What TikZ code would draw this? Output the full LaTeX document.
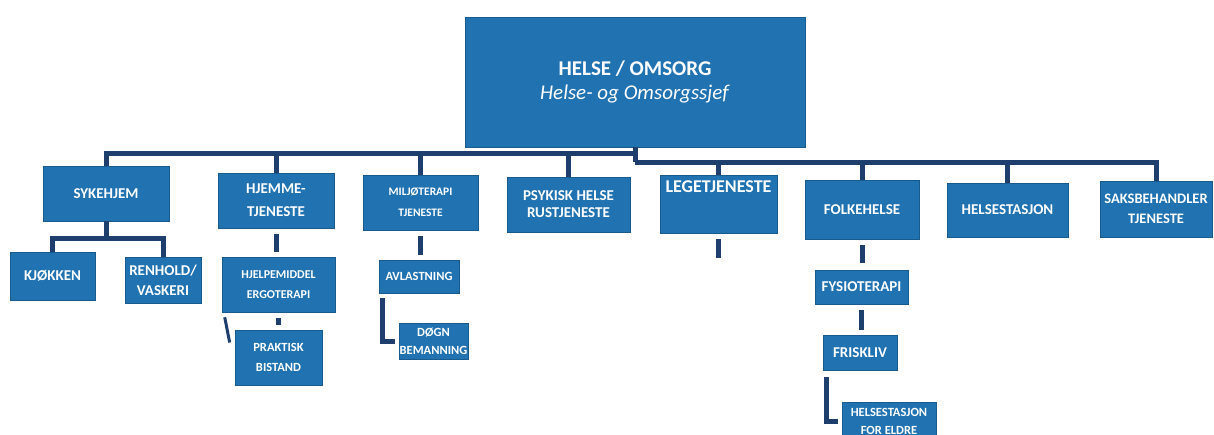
\documentclass[tikz,border=0pt]{standalone}
\usepackage{fontspec}
\setmainfont{Carlito}
\usepackage{tikz}
\usetikzlibrary{positioning}
\definecolor{unitblue}{RGB}{32,114,176}
\definecolor{linkblue}{RGB}{30,62,110}
\tikzset{
    %Define style for boxes
    unitnode/.style={
             rectangle,
             fill=unitblue, draw=unitblue!80!black, line width=0.6pt,
             text=white, align=center, inner sep=1pt},
    boxsize/.style 2 args={minimum width=#1pt, minimum height=#2pt},
    textsize/.style 2 args={font=\bfseries\fontsize{#1}{#2}\selectfont},
    % Define connector style
    unitlink/.style={
            draw=linkblue,
            line width=5pt},
    stub/.style={
            unitlink,
            shorten <=6pt, shorten >=5pt}
}
\begin{document}
\begin{tikzpicture}[x=1pt, y=-1pt]
    \fill[white] (0,0) rectangle (1214,435);
    \useasboundingbox (0,0) rectangle (1214,435);
    % top box
    \node[unitnode, boxsize={340}{130}, font=\fontsize{21}{24}\selectfont] (helse) at (635,82)
        {\textbf{HELSE / OMSORG}\\\textit{Helse- og Omsorgssjef}};
    % first row
    \node[unitnode, boxsize={126}{55}, textsize={15}{20}] (sykehjem) at (106,193.5) {SYKEHJEM};
    \node[unitnode, boxsize={116}{55}, textsize={15}{23}] (hjemme) at (276,200.5) {HJEMME-\\TJENESTE};
    \node[unitnode, boxsize={115}{55}, textsize={11.5}{21}] (miljo) at (420.5,202.5) {MILJØTERAPI\\TJENESTE};
    \node[unitnode, boxsize={123}{55}, textsize={15}{17}] (psykisk) at (568.5,204.5) {PSYKISK HELSE\\RUSTJENESTE};
    \node[unitnode, boxsize={117}{58}, textsize={18}{22}] (lege) at (718.5,204) {LEGETJENESTE\\[6pt]\strut};
    \node[unitnode, boxsize={114}{59}, textsize={15}{20}] (folkehelse) at (862,209.5) {FOLKEHELSE};
    \node[unitnode, boxsize={121}{54}, textsize={15}{20}] (helsestasjon) at (1007.5,210) {HELSESTASJON};
    \node[unitnode, boxsize={112}{56}, textsize={14.5}{20}] (saksbeh) at (1156,209) {SAKSBEHANDLER\\TJENESTE};
    % second row and below
    \node[unitnode, boxsize={85}{48}, textsize={15}{20}] (kjokken) at (52.5,276) {KJØKKEN};
    \node[unitnode, boxsize={76}{46}, textsize={15}{20}] (renhold) at (163,280) {RENHOLD/\\VASKERI};
    \node[unitnode, boxsize={113}{55}, textsize={12}{20}] (hjelpemiddel) at (278.5,284.5) {HJELPEMIDDEL\\ERGOTERAPI};
    \node[unitnode, boxsize={87}{55}, textsize={12.5}{20}] (praktisk) at (278.5,357.5) {PRAKTISK\\BISTAND};
    \node[unitnode, boxsize={80}{33}, textsize={12.5}{20}] (avlastning) at (419,276.5) {AVLASTNING};
    \node[unitnode, boxsize={69}{36}, textsize={12.5}{18}, inner sep=0pt] (dogn) at (433.5,341) {DØGN\\BEMANNING};
    \node[unitnode, boxsize={93}{34}, textsize={15}{20}] (fysio) at (861.5,287) {FYSIOTERAPI};
    \node[unitnode, boxsize={74}{35}, textsize={15}{20}] (frisk) at (860,352.5) {FRISKLIV};
    \node[unitnode, boxsize={94}{38}, textsize={12.5}{18}] (eldre) at (889,421) {HELSESTASJON\\FOR ELDRE};
    % bus under the top box
    \draw[unitlink] (helse.south) -- ++(0,6) coordinate (busleft) -- ++(0,9) coordinate (busright);
    \foreach \n in {sykehjem,hjemme,miljo,psykisk}
        \draw[unitlink] (busleft) -| (\n.north);
    \foreach \n in {lege,folkehelse,helsestasjon,saksbeh}
        \draw[unitlink] (busright) -| (\n.north);
    % under sykehjem
    \draw[unitlink] (sykehjem.south) -- ++(0,17) coordinate (subbus);
    \draw[unitlink] (subbus) -| (kjokken.north);
    \draw[unitlink] (subbus) -| (renhold.north);
    % short links
    \coordinate (legeend) at ([shift={(0,25)}]lege.south);
    \path (hjemme.south) edge[stub] (hjemme.south |- hjelpemiddel.north)
    (hjelpemiddel.south) edge[stub] (hjelpemiddel.south |- praktisk.north)
    (miljo.south) edge[stub] (miljo.south |- avlastning.north)
    (lege.south) edge[stub, shorten >=0pt] (legeend)
    (folkehelse.south) edge[stub, shorten >=7pt] (folkehelse.south |- fysio.north)
    (fysio.south) edge[stub] (fysio.south |- frisk.north);
    \draw[unitlink, line width=3pt] ([shift={(3,5)}]hjelpemiddel.south west) -- ([shift={(-5,-15)}]praktisk.west);
    % elbows
    \draw[unitlink, shorten >=4pt] ([shift={(4,5)}]avlastning.south west) |- (dogn.west);
    \draw[unitlink, shorten >=4pt] ([shift={(4,7)}]frisk.south west) |- (eldre.west);
\end{tikzpicture}
\end{document}
